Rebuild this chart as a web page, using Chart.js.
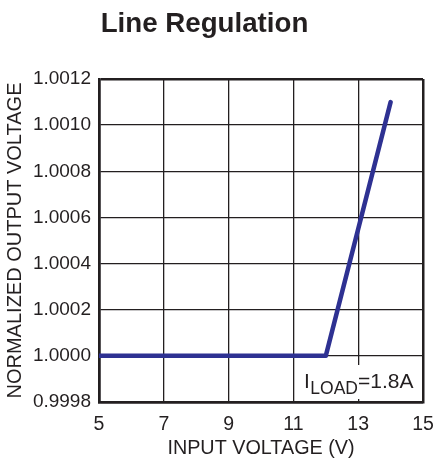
<!DOCTYPE html>
<html>
<head>
<meta charset="utf-8">
<script src="https://cdn.jsdelivr.net/npm/chart.js@4.4.1/dist/chart.umd.min.js"></script>
<style>
  html, body { margin: 0; padding: 0; background: #ffffff; }
  #wrap { width: 435px; height: 462px; }
</style>
</head>
<body>
<div id="wrap"><canvas id="c" width="435" height="462"></canvas></div>
<script>
// ---- data ----
const inputVoltage = [5, 12, 14];
const normalizedOutput = [1.0000, 1.0000, 1.0011];
const xTickValues = [5, 7, 9, 11, 13, 15];
const yTickLabels = ['0.9998', '1.0000', '1.0002', '1.0004', '1.0006', '1.0008', '1.0010', '1.0012'];
const chartTitle = 'Line Regulation';
const xTitle = 'INPUT VOLTAGE (V)';
const yTitle = 'NORMALIZED OUTPUT VOLTAGE';
const noteMain = 'I';
const noteSub = 'LOAD';
const noteTail = '=1.8A';

const FONT = "'Liberation Sans', Arial, Helvetica, sans-serif";
const INK = '#231f20';
const LINE = '#2e3192';

const points = inputVoltage.map((x, i) => ({ x: x, y: normalizedOutput[i] }));

// Title drawn as real canvas text, slightly left of the canvas centre as in the reference
const titlePlugin = {
  id: 'topTitle',
  afterDraw(chart) {
    const { ctx, chartArea } = chart;
    ctx.save();
    ctx.fillStyle = INK;
    ctx.font = 'bold 27.7px ' + FONT;
    ctx.textAlign = 'center';
    ctx.textBaseline = 'alphabetic';
    ctx.fillText(chartTitle, chart.width / 2 - 13, chartArea.top - 47);
    ctx.restore();
  }
};

const notePlugin = {
  id: 'loadNote',
  afterDatasetsDraw(chart) {
    const { ctx, chartArea } = chart;
    const right = chartArea.right;
    const bottom = chartArea.bottom;
    ctx.save();
    ctx.fillStyle = '#ffffff';
    ctx.fillRect(right - 122, bottom - 37, 120, 34);
    ctx.fillStyle = INK;
    ctx.textBaseline = 'alphabetic';
    ctx.textAlign = 'left';
    const base = bottom - 14;
    let x = right - 119;
    ctx.font = '21px ' + FONT;
    ctx.fillText(noteMain, x, base);
    x += ctx.measureText(noteMain).width + 0.5;
    ctx.font = '17.5px ' + FONT;
    ctx.fillText(noteSub, x, base + 5.7);
    x += ctx.measureText(noteSub).width;
    ctx.font = '21px ' + FONT;
    ctx.fillText(noteTail, x, base);
    ctx.restore();
  }
};

const edgeWidth = (c, n) => (c.index === 0 || c.index === n - 1) ? 2.5 : 1.3;

new Chart(document.getElementById('c'), {
  type: 'line',
  data: {
    datasets: [{
      data: points,
      borderColor: LINE,
      borderWidth: 4.5,
      borderCapStyle: 'round',
      borderJoinStyle: 'round',
      pointRadius: 0,
      tension: 0,
      fill: false
    }]
  },
  options: {
    responsive: false,
    animation: false,
    devicePixelRatio: 1,
    layout: { padding: { left: 0, right: 12, top: 79, bottom: 0 } },
    plugins: {
      legend: { display: false },
      tooltip: { enabled: false },
      title: { display: false }
    },
    scales: {
      x: {
        type: 'linear',
        min: 5,
        max: 15,
        afterBuildTicks: (s) => { s.ticks = xTickValues.map(v => ({ value: v })); },
        afterFit: (s) => { s.height = 60; s.paddingLeft = 0; s.paddingRight = 0; },
        ticks: {
          color: INK,
          font: { family: FONT, size: 19.5 },
          padding: 11,
          maxRotation: 0,
          callback: (v) => String(v)
        },
        grid: {
          color: INK,
          lineWidth: (c) => edgeWidth(c, xTickValues.length),
          drawTicks: false
        },
        border: { display: true, color: INK, width: 2.5 },
        title: {
          display: true,
          text: xTitle,
          color: INK,
          font: { family: FONT, size: 19.8 },
          padding: { top: 0, bottom: 2 }
        }
      },
      y: {
        type: 'linear',
        min: 0.9998,
        max: 1.0012,
        afterBuildTicks: (s) => { s.ticks = yTickLabels.map(t => ({ value: parseFloat(t) })); },
        afterFit: (s) => { s.width = 99; s.paddingTop = 0; s.paddingBottom = 0; },
        ticks: {
          color: INK,
          font: { family: FONT, size: 19 },
          padding: 8,
          callback: (v, i) => yTickLabels[i]
        },
        grid: {
          color: INK,
          lineWidth: (c) => edgeWidth(c, yTickLabels.length),
          drawTicks: false
        },
        border: { display: true, color: INK, width: 2.5 },
        title: {
          display: true,
          text: yTitle,
          color: INK,
          font: { family: FONT, size: 20 },
          padding: { top: 3, bottom: 0 }
        }
      }
    }
  },
  plugins: [notePlugin, titlePlugin]
});
</script>
</body>
</html>
